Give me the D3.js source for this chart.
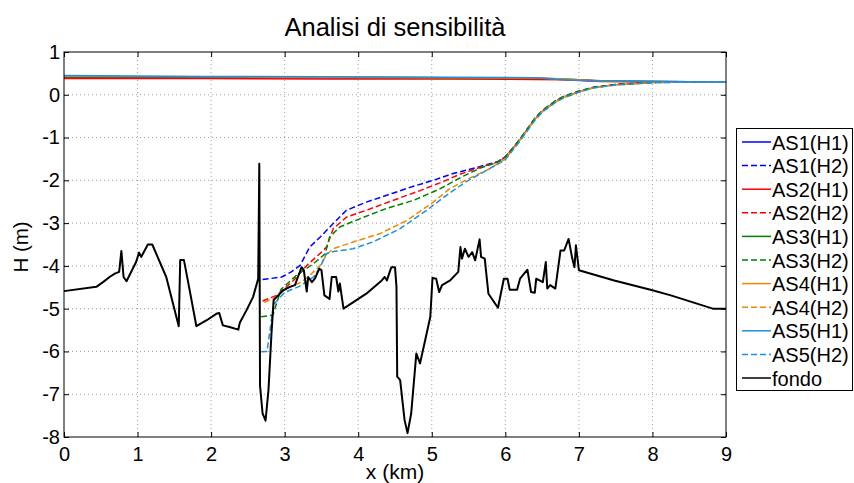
<!DOCTYPE html>
<html>
<head>
<meta charset="utf-8">
<script src="https://cdn.jsdelivr.net/npm/d3@7"></script>
<style>
  body { margin: 0; background: #fff; }
  svg { display: block; font-family: "Liberation Sans", Arial, sans-serif; }
</style>
</head>
<body>
<svg id="chart" width="854" height="483"></svg>
<script>
// ---- data ----
var xTicks = [0, 1, 2, 3, 4, 5, 6, 7, 8, 9];
var yTicks = [1, 0, -1, -2, -3, -4, -5, -6, -7, -8];

// bed profile
var fondoX = [0, 0.44, 0.53, 0.62, 0.69, 0.75, 0.78, 0.81, 0.85, 0.98, 1.02, 1.05, 1.14, 1.20, 1.39, 1.56, 1.58, 1.63, 1.70, 1.80,
  1.94, 2.07, 2.11, 2.16, 2.25, 2.37, 2.39, 2.48, 2.57, 2.64, 2.655, 2.665, 2.70, 2.74, 2.78, 2.82, 2.85, 2.98, 3.07, 3.14,
  3.18, 3.23, 3.26, 3.30, 3.32, 3.37, 3.41, 3.47, 3.50, 3.54, 3.61, 3.64, 3.70, 3.73, 3.75, 3.80, 4.11, 4.32, 4.36, 4.39,
  4.45, 4.50, 4.52, 4.53, 4.57, 4.63, 4.67, 4.72, 4.79, 4.84, 4.91, 4.98, 5.01, 5.06, 5.10, 5.14, 5.25, 5.36, 5.39, 5.41,
  5.45, 5.50, 5.55, 5.59, 5.65, 5.67, 5.72, 5.77, 5.90, 5.98, 6.03, 6.06, 6.16, 6.20, 6.30, 6.35, 6.40, 6.42, 6.51, 6.55,
  6.57, 6.61, 6.68, 6.75, 6.80, 6.86, 6.91, 6.94, 6.96, 7.00, 7.48, 8.00, 8.25, 8.82, 9.00];
var fondoY = [-4.59, -4.49, -4.38, -4.26, -4.18, -4.14, -3.65, -4.26, -4.36, -3.91, -3.69, -3.79, -3.50, -3.50, -4.26, -5.41, -3.86, -3.86, -4.49, -5.41,
  -5.27, -5.12, -5.10, -5.39, -5.43, -5.49, -5.33, -5.04, -4.73, -4.30, -1.61, -6.80, -7.45, -7.62, -6.90, -5.60, -4.80, -4.57, -4.49, -4.45,
  -4.26, -4.03, -4.10, -4.60, -4.26, -4.38, -4.30, -4.07, -4.10, -4.69, -4.77, -4.26, -4.26, -4.60, -4.41, -5.00, -4.65, -4.34, -4.26, -4.34,
  -4.03, -4.03, -4.49, -6.59, -6.67, -7.60, -7.91, -7.45, -6.05, -6.28, -5.74, -5.19, -4.28, -4.30, -4.61, -4.45, -4.34, -4.14, -3.56, -3.83,
  -3.60, -3.79, -3.68, -3.87, -3.38, -3.79, -3.83, -4.65, -4.98, -4.30, -4.30, -4.56, -4.56, -4.30, -4.09, -4.61, -4.63, -4.30, -4.38, -3.91,
  -4.53, -4.45, -4.53, -3.64, -3.64, -3.37, -3.83, -4.03, -3.52, -4.10, -4.34, -4.57, -4.69, -5.00, -5.00];

// H1 free surface (solid), common x stations
var h1X = [0, 1.9, 3.6, 5.2, 6.4, 6.8, 7.3, 8.0, 9.0];
var as1H1 = [0.41, 0.41, 0.40, 0.39, 0.38, 0.36, 0.32, 0.31, 0.30];
var as2H1 = [0.38, 0.38, 0.37, 0.37, 0.36, 0.35, 0.31, 0.30, 0.30];
var as3H1 = [0.42, 0.42, 0.41, 0.40, 0.39, 0.37, 0.33, 0.31, 0.30];
var as4H1 = [0.43, 0.42, 0.41, 0.40, 0.39, 0.37, 0.32, 0.31, 0.30];
var as5H1 = [0.45, 0.43, 0.42, 0.41, 0.40, 0.35, 0.32, 0.31, 0.30];

// H2 free surface (dashed)
var as1H2X = [2.70, 2.96, 3.09, 3.21, 3.34, 3.48, 3.66, 3.84, 4.11, 4.47, 4.75, 5.02, 5.29, 5.65, 5.90, 6.00, 6.10, 6.20, 6.30, 6.40, 6.50, 6.60, 6.70, 6.80, 7.00, 7.20, 7.50, 8.00, 8.50, 9.00];
var as1H2Y = [-4.32, -4.26, -4.14, -3.99, -3.56, -3.33, -3.01, -2.70, -2.51, -2.30, -2.14, -2.00, -1.84, -1.68, -1.56, -1.45, -1.25, -1.04, -0.80, -0.56, -0.38, -0.25, -0.13, -0.04, 0.08, 0.17, 0.24, 0.29, 0.30, 0.30];
var as2H2X = [2.70, 2.89, 3.12, 3.30, 3.48, 3.57, 3.66, 3.84, 4.11, 4.47, 4.84, 5.11, 5.38, 5.65, 5.90, 6.00, 6.10, 6.20, 6.30, 6.40, 6.50, 6.60, 6.70, 6.80, 7.00, 7.20, 7.50, 8.00, 8.50, 9.00];
var as2H2Y = [-4.82, -4.69, -4.34, -3.99, -3.71, -3.56, -3.13, -2.86, -2.70, -2.47, -2.24, -2.06, -1.86, -1.70, -1.57, -1.46, -1.26, -1.05, -0.81, -0.57, -0.39, -0.26, -0.14, -0.05, 0.07, 0.17, 0.24, 0.29, 0.30, 0.30];
var as3H2X = [2.68, 2.84, 2.95, 3.16, 3.39, 3.55, 3.61, 3.75, 4.02, 4.38, 4.75, 5.11, 5.43, 5.65, 5.90, 6.00, 6.10, 6.20, 6.30, 6.40, 6.50, 6.60, 6.70, 6.80, 7.00, 7.20, 7.50, 8.00, 8.50, 9.00];
var as3H2Y = [-5.19, -5.15, -4.55, -4.22, -3.95, -3.72, -3.33, -3.09, -2.90, -2.66, -2.47, -2.20, -1.90, -1.72, -1.57, -1.45, -1.25, -1.03, -0.79, -0.55, -0.37, -0.24, -0.12, -0.03, 0.09, 0.18, 0.24, 0.29, 0.30, 0.30];
var as4H2X = [2.72, 2.86, 3.00, 3.20, 3.32, 3.48, 3.57, 3.66, 3.93, 4.29, 4.66, 5.02, 5.24, 5.50, 5.80, 6.00, 6.10, 6.20, 6.30, 6.40, 6.50, 6.60, 6.70, 6.80, 7.00, 7.20, 7.50, 8.00, 8.50, 9.00];
var as4H2Y = [-4.85, -4.75, -4.55, -4.40, -4.26, -3.99, -3.74, -3.60, -3.44, -3.25, -2.94, -2.51, -2.20, -1.96, -1.72, -1.50, -1.28, -1.06, -0.82, -0.58, -0.40, -0.27, -0.15, -0.06, 0.07, 0.16, 0.23, 0.28, 0.30, 0.30];
var as5H2X = [2.68, 2.76, 2.85, 3.00, 3.20, 3.40, 3.48, 3.57, 3.68, 3.93, 4.20, 4.57, 4.93, 5.20, 5.45, 5.75, 6.00, 6.10, 6.20, 6.30, 6.40, 6.50, 6.60, 6.70, 6.80, 7.00, 7.20, 7.50, 8.00, 8.50, 9.00];
var as5H2Y = [-6.01, -6.00, -4.90, -4.62, -4.48, -4.25, -4.03, -3.71, -3.66, -3.60, -3.44, -3.13, -2.70, -2.35, -2.05, -1.76, -1.52, -1.30, -1.08, -0.84, -0.60, -0.41, -0.28, -0.16, -0.07, 0.06, 0.16, 0.23, 0.28, 0.30, 0.30];

var seriesNames = ["AS1(H1)", "AS1(H2)", "AS2(H1)", "AS2(H2)", "AS3(H1)", "AS3(H2)", "AS4(H1)", "AS4(H2)", "AS5(H1)", "AS5(H2)", "fondo"];
var seriesColors = ["#0000ff", "#0000ff", "#ff0000", "#ff0000", "#008000", "#008000", "#ee8800", "#ee8800", "#1e90e0", "#1e90e0", "#000000"];

// ---- build series ----
function zip(xs, ys) { return xs.map(function(v, i) { return [v, ys[i]]; }); }
var series = [
  zip(h1X, as1H1), zip(as1H2X, as1H2Y),
  zip(h1X, as2H1), zip(as2H2X, as2H2Y),
  zip(h1X, as3H1), zip(as3H2X, as3H2Y),
  zip(h1X, as4H1), zip(as4H2X, as4H2Y),
  zip(h1X, as5H1), zip(as5H2X, as5H2Y),
  zip(fondoX, fondoY)
].map(function(pts, i) {
  return { name: seriesNames[i], color: seriesColors[i], pts: pts, dashed: seriesNames[i].indexOf("H2") >= 0 };
});

// ---- layout ----
var svg = d3.select("#chart");
var pL = 64, pR = 726, pT = 52, pB = 437;

var x = d3.scaleLinear().domain([0, 9]).range([pL, pR]);
var y = d3.scaleLinear().domain([-8, 1]).range([pB, pT]);

// grid
var grid = svg.append("g");
grid.selectAll(".gx").data(xTicks.slice(1, -1)).enter().append("line")
  .attr("x1", d => x(d)).attr("x2", d => x(d)).attr("y1", pT).attr("y2", pB)
  .attr("stroke", "#a0a0a0").attr("stroke-width", 1).attr("stroke-dasharray", "1,3");
grid.selectAll(".gy").data(yTicks.slice(1, -1)).enter().append("line")
  .attr("y1", d => y(d)).attr("y2", d => y(d)).attr("x1", pL).attr("x2", pR)
  .attr("stroke", "#a0a0a0").attr("stroke-width", 1).attr("stroke-dasharray", "1,3");

// lines
var line = d3.line().x(d => x(d[0])).y(d => y(d[1]));
var plot = svg.append("g");
plot.selectAll("path").data(series).enter().append("path")
  .attr("d", d => line(d.pts))
  .attr("fill", "none")
  .attr("stroke", d => d.color)
  .attr("stroke-width", d => d.name === "fondo" ? 2 : 1.5)
  .attr("stroke-dasharray", d => d.dashed ? "6,3" : null)
  .attr("stroke-linejoin", "round");

// axes (ticks inward, MATLAB style, plain hyphen for negatives)
var fs = 20;
var plain = d => String(d);
svg.append("g").attr("transform", "translate(0," + pB + ")")
  .call(d3.axisBottom(x).tickValues(xTicks).tickSize(-5).tickPadding(10).tickFormat(plain))
  .call(g => g.select(".domain").remove())
  .call(g => g.selectAll("text").attr("font-size", fs).attr("font-family", "Liberation Sans, Arial").attr("fill", "#000"));
svg.append("g").attr("transform", "translate(" + pL + ",0)")
  .call(d3.axisLeft(y).tickValues(yTicks).tickSize(-5).tickPadding(4).tickFormat(plain))
  .call(g => g.select(".domain").remove())
  .call(g => g.selectAll("text").attr("font-size", fs).attr("font-family", "Liberation Sans, Arial").attr("fill", "#000"));
svg.append("g").attr("transform", "translate(0," + pT + ")")
  .call(d3.axisTop(x).tickValues(xTicks).tickSize(-5).tickFormat(""))
  .call(g => g.select(".domain").remove());
svg.append("g").attr("transform", "translate(" + pR + ",0)")
  .call(d3.axisRight(y).tickValues(yTicks).tickSize(-5).tickFormat(""))
  .call(g => g.select(".domain").remove());
svg.selectAll(".tick line").attr("stroke", "#000");

// box
svg.append("rect").attr("x", pL).attr("y", pT).attr("width", pR - pL).attr("height", pB - pT)
  .attr("fill", "none").attr("stroke", "#000").attr("stroke-width", 1);

// labels
svg.append("text").attr("x", (pL + pR) / 2).attr("y", 36).attr("text-anchor", "middle")
  .attr("font-size", 25.5).text("Analisi di sensibilità");
svg.append("text").attr("x", (pL + pR) / 2).attr("y", 479).attr("text-anchor", "middle")
  .attr("font-size", 21).text("x (km)");
svg.append("text").attr("transform", "translate(28,247) rotate(-90)")
  .attr("text-anchor", "middle").attr("font-size", 20.5).text("H (m)");

// legend
var lg = svg.append("g");
lg.append("rect").attr("x", 736.5).attr("y", 128.5).attr("width", 116).attr("height", 262)
  .attr("fill", "#fff").attr("stroke", "#000");
var rows = lg.selectAll(".row").data(series).enter().append("g")
  .attr("transform", (d, i) => "translate(0," + (142 + i * 23.6) + ")");
rows.append("line").attr("x1", 742).attr("x2", 771).attr("y1", 0).attr("y2", 0)
  .attr("stroke", d => d.color).attr("stroke-width", 1.5)
  .attr("stroke-dasharray", d => d.dashed ? "6,3" : null);
rows.append("text").attr("x", 772).attr("y", 7.5).attr("font-size", 20).text(d => d.name);
</script>
</body>
</html>
